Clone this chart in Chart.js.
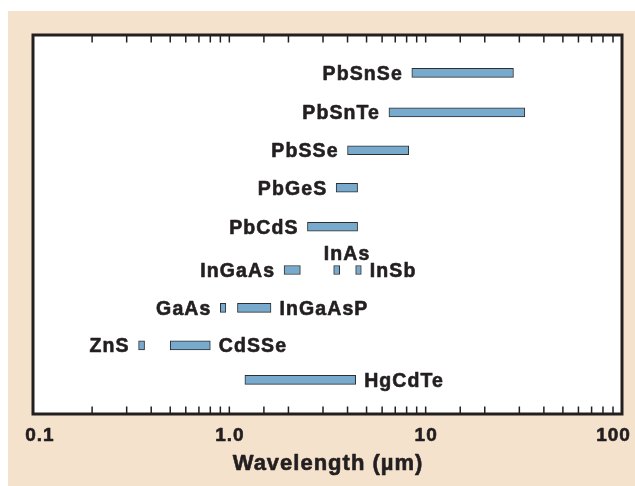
<!DOCTYPE html>
<html>
<head>
<meta charset="utf-8">
<script src="https://cdn.jsdelivr.net/npm/chart.js@4.4.1/dist/chart.umd.min.js"></script>
<style>
  body { margin: 0; background: #ffffff; }
  #wrap { position: absolute; left: 8px; top: 11px; width: 627px; height: 475px; background: #f4e2cd; }
</style>
</head>
<body>
<div id="wrap"><canvas id="chart"></canvas></div>
<script>
// detector materials and their wavelength ranges (µm)
const materials = ["PbSnSe", "PbSnTe", "PbSSe", "PbGeS", "PbCdS", "InGaAs", "InAs", "InSb", "GaAs", "InGaAsP", "ZnS", "CdSSe", "HgCdTe"];
const startWl = [8.5, 6.5, 4.0, 3.5, 2.5, 1.9, 3.4, 4.4, 0.9, 1.1, 0.345, 0.5, 1.2];
const endWl = [28, 32, 8.2, 4.5, 4.5, 2.3, 3.65, 4.7, 0.96, 1.63, 0.37, 0.8, 4.4];
const rowPos = [1, 2.04, 3.04, 4.03, 5.06, 6.2, 6.2, 6.2, 7.2, 7.2, 8.19, 8.19, 9.1];

const tickValues = [0.1, 1, 10, 100];
const tickLabels = ["0.1", "1.0", "10", "100"];
const axisTitle = "Wavelength (µm)";

// where each name sits relative to its bar
const labelSide = {
    InAs: "above", InSb: "right", InGaAsP: "right", CdSSe: "right", HgCdTe: "right"
};

const ink = "#231f20";
const fontFamily = '"Liberation Sans", Arial, Helvetica, sans-serif';

// bold text with a thin outline so it reads as heavy as the print
function heavyText(ctx, text, x, y) {
    ctx.fillText(text, x, y);
    ctx.strokeText(text, x, y);
}

const decorPlugin = {
    id: "decor",
    beforeDraw(chart) {
        const { ctx, chartArea: a } = chart;
        ctx.save();
        ctx.fillStyle = "#ffffff";
        ctx.fillRect(a.left, a.top, a.right - a.left, a.bottom - a.top);
        ctx.restore();
    },
    afterDraw(chart) {
        const { ctx, chartArea: a } = chart;
        const xScale = chart.scales.x;
        ctx.save();

        // inward tick marks on top and bottom
        ctx.strokeStyle = ink;
        ctx.lineWidth = 1.5;
        xScale.ticks.forEach(t => {
            const px = xScale.getPixelForValue(t.value);
            if (px <= a.left + 2 || px >= a.right - 2) return;
            ctx.beginPath();
            ctx.moveTo(px, a.bottom);
            ctx.lineTo(px, a.bottom - 7.5);
            ctx.moveTo(px, a.top);
            ctx.lineTo(px, a.top + 7.5);
            ctx.stroke();
        });

        // plot frame
        ctx.lineWidth = 3;
        ctx.strokeRect(a.left, a.top, a.right - a.left, a.bottom - a.top);

        // material names
        ctx.fillStyle = ink;
        ctx.lineWidth = 0.6;
        ctx.lineJoin = "round";
        ctx.font = "bold 19.5px " + fontFamily;
        ctx.letterSpacing = "1.1px";
        const meta = chart.getDatasetMeta(0);
        meta.data.forEach((bar, i) => {
            const name = materials[i];
            const side = labelSide[name] || "left";
            const left = Math.min(bar.x, bar.base);
            const right = Math.max(bar.x, bar.base);
            if (side === "left") {
                ctx.textAlign = "right";
                heavyText(ctx, name, left - 10 + 1.1, bar.y + 7);
            } else if (side === "right") {
                ctx.textAlign = "left";
                heavyText(ctx, name, right + 8.5, bar.y + 7);
            } else {
                ctx.textAlign = "left";
                heavyText(ctx, name, left - 10, bar.y - 9.5);
            }
        });

        // x tick labels
        const nudge = [6.4, 0, 0, -9];
        ctx.font = "bold 19px " + fontFamily;
        ctx.letterSpacing = "1px";
        ctx.textAlign = "center";
        tickValues.forEach((v, i) => {
            const px = xScale.getPixelForValue(v);
            heavyText(ctx, tickLabels[i], px + nudge[i] + 0.5, a.bottom + 27.4);
        });

        // axis title
        ctx.font = "bold 22px " + fontFamily;
        ctx.letterSpacing = "1px";
        heavyText(ctx, axisTitle, (a.left + a.right) / 2 + 0.5, a.bottom + 56);
        ctx.restore();
    }
};

new Chart(document.getElementById("chart"), {
    type: "bar",
    data: {
        datasets: [{
            data: materials.map((m, i) => ({ y: rowPos[i], x: [startWl[i], endWl[i]] })),
            backgroundColor: "#78aacd",
            borderColor: "#2e2e2e",
            borderWidth: 1,
            borderSkipped: false,
            barThickness: 9
        }]
    },
    options: {
        indexAxis: "y",
        responsive: true,
        maintainAspectRatio: false,
        animation: false,
        layout: { padding: { left: 25, top: 24, right: 13, bottom: 72 } },
        plugins: { legend: { display: false }, tooltip: { enabled: false } },
        scales: {
            x: { type: "logarithmic", min: 0.1, max: 100, display: false, ticks: { autoSkip: false } },
            y: { type: "linear", min: 0, max: 10, reverse: true, offset: false, display: false }
        }
    },
    plugins: [decorPlugin]
});
</script>
</body>
</html>
